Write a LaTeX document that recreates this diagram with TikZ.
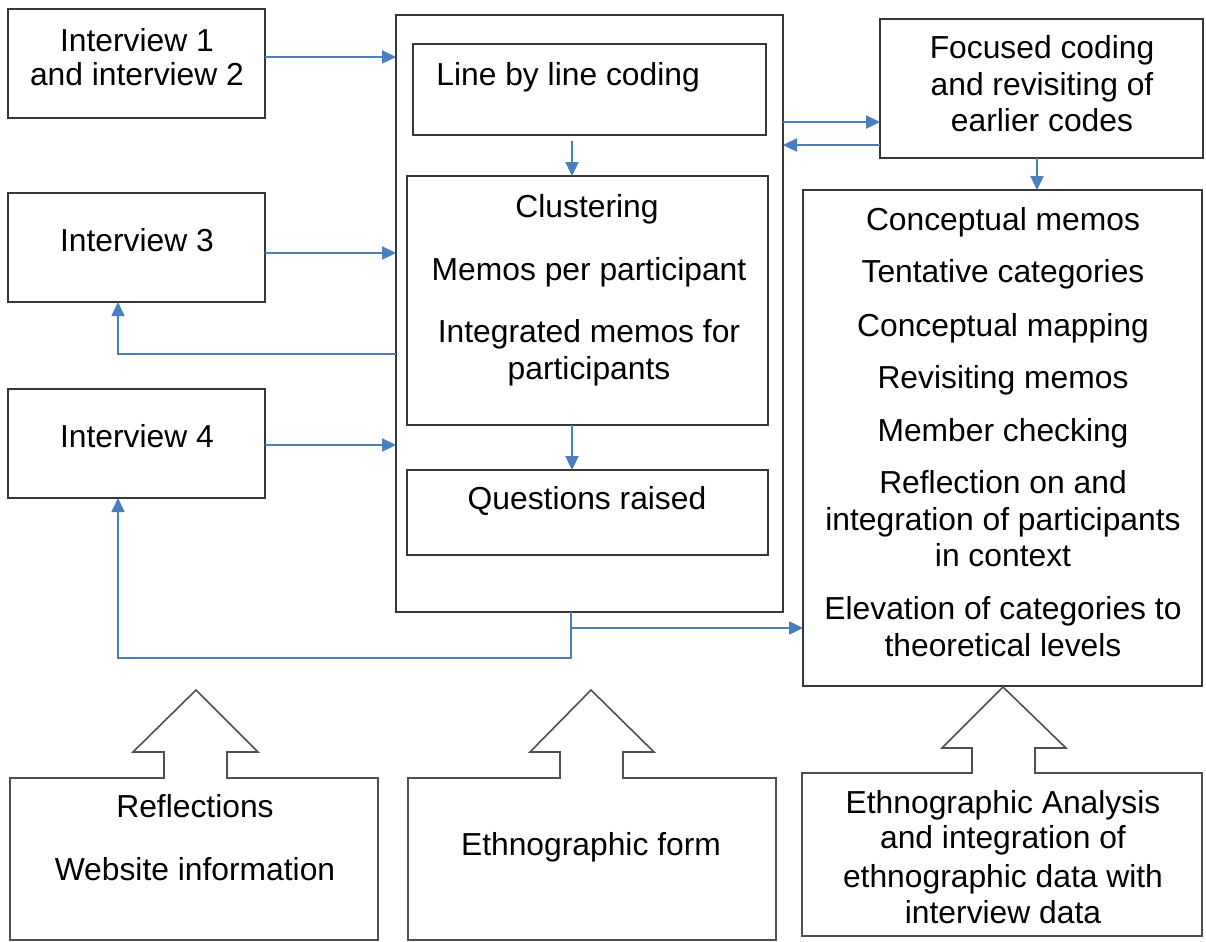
\documentclass[tikz,border=0pt]{standalone}
\usepackage{fontspec}
\setmainfont{Liberation Sans}
\usetikzlibrary{arrows.meta,calc}
\definecolor{lnblue}{RGB}{74,126,190}
\definecolor{edge}{RGB}{55,55,55}
\definecolor{cedge}{RGB}{80,80,80}
\begin{document}
\begin{tikzpicture}[x=0.5pt,y=-0.5pt,
 box/.style={draw=edge,line width=1.1pt,inner sep=0,outer sep=0,anchor=north west},
 cbox/.style={inner sep=0,outer sep=0,anchor=north west},
 txt/.style={font=\fontsize{15.9}{19}\selectfont,anchor=base,inner sep=0},
 arr/.style={draw=lnblue,line width=1.2pt,-{Triangle[length=7pt,width=6.5pt]}},
 fbarr/.style={draw=lnblue,line width=0.8pt,-{Triangle[length=7pt,width=6.5pt]}},
 callout/.style={draw=cedge,line width=0.8pt,line join=miter}]
\useasboundingbox (0,0) rectangle (1206,942);

% boxes
\node[box,minimum width=128.5pt,minimum height=54.5pt] (i12) at (8,9) {};
\node[box,minimum width=128.5pt,minimum height=54.5pt] (i3) at (8,193) {};
\node[box,minimum width=128.5pt,minimum height=54.5pt] (i4) at (8,389) {};
\node[box,minimum width=193.5pt,minimum height=298.5pt] (big) at (396,15) {};
\node[box,minimum width=176.5pt,minimum height=45.5pt] (lbl) at (413,44) {};
\node[box,minimum width=180.5pt,minimum height=124.5pt] (clu) at (407,176) {};
\node[box,minimum width=180.5pt,minimum height=42.5pt] (que) at (407,470) {};
\node[box,minimum width=161.5pt,minimum height=69.5pt] (foc) at (880,19) {};
\node[box,minimum width=199.5pt,minimum height=248pt] (con) at (803,190) {};
\node[cbox,minimum width=184pt,minimum height=81pt] (r1) at (10,778) {};
\node[cbox,minimum width=184pt,minimum height=81pt] (r2) at (408,778) {};
\node[cbox,minimum width=200pt,minimum height=81.5pt] (r3) at (802,773) {};

% callout outlines (box + block arrow)
\draw[callout] (r1.north west) -- (164,778) -- (164,752) -- (133,752) -- (196,690) -- (258,752) -- (227,752) -- (227,778) -- (r1.north east) -- (r1.south east) -- (r1.south west) -- cycle;
\draw[callout] (r2.north west) -- (560,778) -- (560,752) -- (530,752) -- (591,690) -- (654,752) -- (623,752) -- (623,778) -- (r2.north east) -- (r2.south east) -- (r2.south west) -- cycle;
\draw[callout] (r3.north west) -- (972,773) -- (972,748) -- (942,748) -- (1003,687) -- (1066,748) -- (1035,748) -- (1035,773) -- (r3.north east) -- (r3.south east) -- (r3.south west) -- cycle;

% texts
\node[txt] (t1a) at (137,51) {Interview 1};
\node[txt] (t1b) at (137,85) {and interview 2};
\node[txt] (t3) at (137,251) {Interview 3};
\node[txt] (t4) at (137,447) {Interview 4};
\node[txt,anchor=base west] (tl) at (436,85) {Line by line coding};
\node[txt] (tc1) at (587,217) {Clustering};
\node[txt] (tc2) at (589,280) {Memos per participant};
\node[txt] (tc3) at (589,342) {Integrated memos for};
\node[txt] (tc4) at (589,379) {participants};
\node[txt] (tq) at (587,509) {Questions raised};
\node[txt] (tf1) at (1042,58) {Focused coding};
\node[txt] (tf2) at (1042,95) {and revisiting of};
\node[txt] (tf3) at (1042,131) {earlier codes};
\node[txt] (k1) at (1003,230) {Conceptual memos};
\node[txt] (k2) at (1003,282) {Tentative categories};
\node[txt] (k3) at (1003,336) {Conceptual mapping};
\node[txt] (k4) at (1003,388) {Revisiting memos};
\node[txt] (k5) at (1003,441) {Member checking};
\node[txt] (k6) at (1003,493) {Reflection on and};
\node[txt] (k7) at (1003,530) {integration of participants};
\node[txt] (k8) at (1003,566) {in context};
\node[txt] (k9) at (1003,619) {Elevation of categories to};
\node[txt] (k10) at (1003,656) {theoretical levels};
\node[txt] (b1) at (195,817) {Reflections};
\node[txt] (b2) at (195,880) {Website information};
\node[txt] (b3) at (591,855) {Ethnographic form};
\node[txt] (b4) at (1003,813) {Ethnographic Analysis};
\node[txt] (b5) at (1003,848) {and integration of};
\node[txt] (b6) at (1003,887) {ethnographic data with};
\node[txt] (b7) at (1003,923) {interview data};

% helper coordinates
\coordinate (h57) at (0,57);
\coordinate (h253) at (0,253);
\coordinate (h445) at (0,445);
\coordinate (h122) at (0,122);
\coordinate (h145) at (0,145);
\coordinate (h354) at (0,354);
\coordinate (h628) at (0,628);
\coordinate (v572) at (572,0);
\coordinate (v1037) at (1037,0);
\coordinate (fbturn3) at (118,354);
\coordinate (dropa) at (571,658);
\coordinate (fbturn4) at (118,658);
\coordinate (split) at (571,628);
\coordinate (v571) at (571,0);
\coordinate (v118) at (118,0);

% connectors
\draw[arr] (i12.east |- h57) -- (big.west |- h57);
\draw[arr] (i3.east |- h253) -- (big.west |- h253);
\draw[arr] (i4.east |- h445) -- (big.west |- h445);
\draw[arr] ([yshift=-3pt]lbl.south -| v572) -- (clu.north -| v572);
\draw[arr] (clu.south -| v572) -- (que.north -| v572);
\draw[arr] (big.east |- h122) -- (foc.west |- h122);
\draw[arr] (foc.west |- h145) -- (big.east |- h145);
\draw[arr] (foc.south -| v1037) -- (con.north -| v1037);
\draw[fbarr] (big.west |- h354) -- (fbturn3) -- (i3.south -| v118);
\draw[fbarr] (big.south -| v571) -- (dropa) -- (fbturn4) -- (i4.south -| v118);
\draw[arr] (split) -- (con.west |- h628);
\end{tikzpicture}
\end{document}
